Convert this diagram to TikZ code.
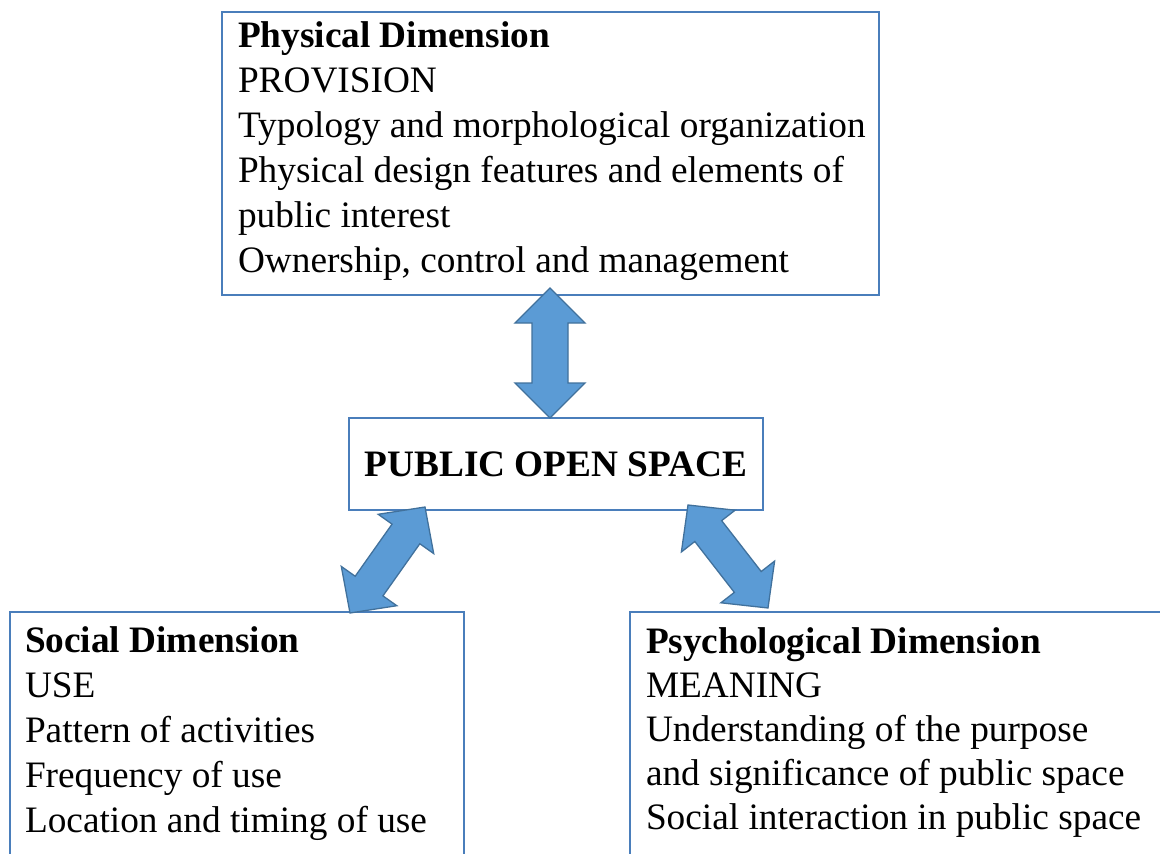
\documentclass[tikz,border=0pt]{standalone}
\usepackage{fontspec}
\setmainfont{Liberation Serif}
\usetikzlibrary{calc}

\definecolor{boxline}{HTML}{4A7EBB}
\definecolor{arrowfill}{HTML}{5B9BD5}
\definecolor{arrowline}{HTML}{41719C}

% Two-headed block arrow between tips #1 and #2:
% #3 head length, #4 half head width, #5 half shaft width
\newcommand{\dualarrow}[5]{%
  \coordinate (#1-#2-a) at ($(#1)!#3!(#2)$);
  \coordinate (#1-#2-b) at ($(#2)!#3!(#1)$);
  \filldraw[blockarrow] (#1)
    -- ($(#1-#2-a)!#4!90:(#2)$) -- ($(#1-#2-a)!#5!90:(#2)$)
    -- ($(#1-#2-b)!#5!-90:(#1)$) -- ($(#1-#2-b)!#4!-90:(#1)$)
    -- (#2)
    -- ($(#1-#2-b)!#4!90:(#1)$) -- ($(#1-#2-b)!#5!90:(#1)$)
    -- ($(#1-#2-a)!#5!-90:(#2)$) -- ($(#1-#2-a)!#4!-90:(#2)$)
    -- cycle;
}

\begin{document}
\begin{tikzpicture}[x=1pt, y=-1pt,
  box/.style={draw=boxline, line width=2.9pt, fill=white, rectangle,
    inner sep=0pt, outer sep=0pt, anchor=north west},
  txt/.style={anchor=north west, inner sep=0pt, outer sep=0pt, align=left,
    font=\fontsize{37.3}{45}\selectfont},
  blockarrow/.style={fill=arrowfill, draw=arrowline, line width=1.3pt,
    line join=miter}]
  \useasboundingbox (0,0) rectangle (1160,854);
  \clip (0,0) rectangle (1160,854);

  % boxes
  \node[box, minimum width=657pt, minimum height=283pt] (phys) at (222,12) {};
  \node[box, minimum width=454pt, minimum height=300pt] (soc) at (10,612) {};
  \node[box, minimum width=580pt, minimum height=300pt] (psy) at (630,612) {};
  \node[box, anchor=center, minimum width=414pt, minimum height=92pt,
    font=\fontsize{37.3}{45}\selectfont\bfseries] (pos) at (556,464) {PUBLIC OPEN SPACE};

  % box texts
  \node[txt] (physt) at (238,22) {\textbf{Physical Dimension}\\
    PROVISION\\
    Typology and morphological organization\\
    Physical design features and elements of\\
    public interest\\
    Ownership, control and management};
  \node[txt] (soct) at (25,627) {\textbf{Social Dimension}\\
    USE\\
    Pattern of activities\\
    Frequency of use\\
    Location and timing of use};
  \node[txt, font=\fontsize{37.3}{44}\selectfont] (psyt) at (646,628) {\textbf{Psychological Dimension}\\
    MEANING\\
    Understanding of the purpose\\
    and significance of public space\\
    Social interaction in public space};

  % arrow tips
  \coordinate (physlow) at ($(phys.south west)+(328,-7)$);
  \coordinate (postop) at ($(pos.north west)+(201,0)$);
  \coordinate (posleft) at ($(pos.south west)+(76,-3)$);
  \coordinate (soctop) at ($(soc.north west)+(340,1)$);
  \coordinate (posright) at ($(pos.south west)+(339,-5)$);
  \coordinate (psytop) at ($(psy.north west)+(138,-4)$);

  % connectors
  \dualarrow{physlow}{postop}{35pt}{35pt}{18pt}
  \dualarrow{posleft}{soctop}{33pt}{34pt}{17pt}
  \dualarrow{posright}{psytop}{33pt}{34pt}{17pt}
\end{tikzpicture}
\end{document}
